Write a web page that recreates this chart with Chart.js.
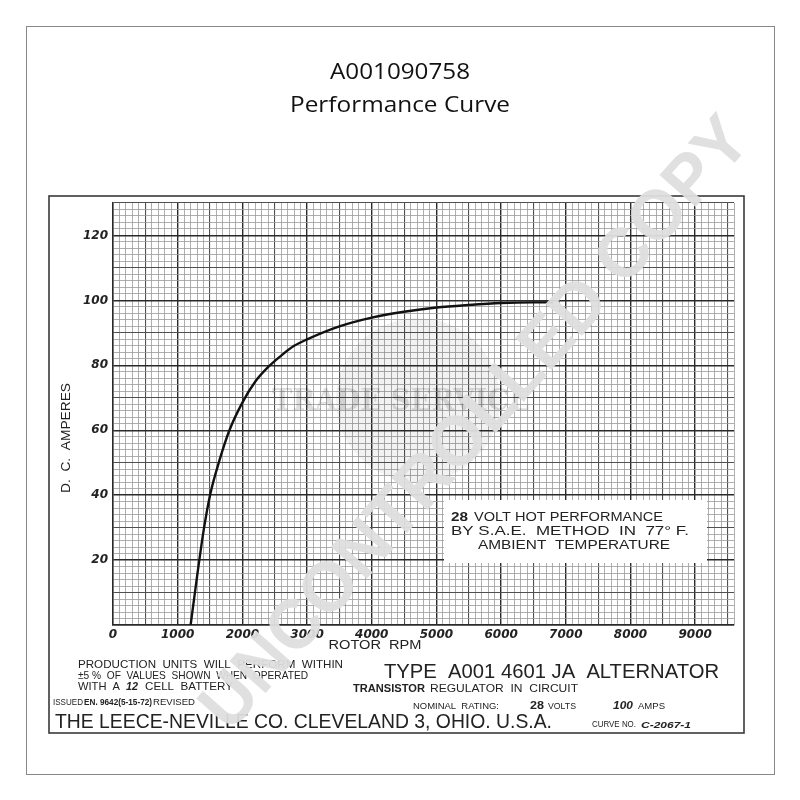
<!DOCTYPE html>
<html>
<head>
<meta charset="utf-8">
<title>A001090758 Performance Curve</title>
<script src="https://cdn.jsdelivr.net/npm/chart.js@4.4.1/dist/chart.umd.min.js"></script>
<style>
  body { margin: 0; background: #fff; }
  canvas { display: block; }
</style>
</head>
<body>
<canvas id="myChart" width="800" height="800"></canvas>
<script>
// curve
const rpm  = [1200, 1300, 1400, 1500, 1650, 1800, 2000, 2200, 2400, 2600, 2800, 3000, 3500, 4000, 4500, 5000, 5500, 6000, 6500, 6800];
const amps = [0, 15, 29, 40, 51, 60, 68.5, 75, 79.5, 83, 86, 88, 92, 94.7, 96.5, 97.8, 98.6, 99.2, 99.4, 99.4];

const xMax = 9600;
const yMax = 130;
const xLabelStep = 1000;
const yLabelStep = 20;

const noteLines = ["28 VOLT HOT PERFORMANCE", "BY S.A.E.  METHOD  IN  77° F.", "AMBIENT  TEMPERATURE"];

// draw text squeezed / stretched to a given width
function fitText(ctx, text, x, y, w, font, color, align) {
  ctx.save();
  ctx.font = font;
  ctx.fillStyle = color || '#222';
  ctx.textBaseline = 'middle';
  ctx.textAlign = 'left';
  const m = ctx.measureText(text).width;
  const sx = w / m;
  let left = x;
  if (align === 'center') left = x - w / 2;
  ctx.translate(left, y);
  ctx.scale(sx, 1);
  ctx.fillText(text, 0, 0);
  ctx.restore();
}

function gridColor(v, major, mid) {
  if (v % major === 0) return '#2a2a2a';
  if (v % mid === 0) return '#505050';
  return '#9a9a9a';
}
function gridWidth(v, major, mid) {
  if (v % major === 0) return 1.4;
  if (v % mid === 0) return 1.1;
  return 0.8;
}

const sheetPlugin = {
  id: 'sheet',
  beforeDraw(chart) {
    const ctx = chart.ctx;
    ctx.save();
    ctx.fillStyle = '#fff';
    ctx.fillRect(0, 0, 800, 800);
    ctx.strokeStyle = '#888';
    ctx.lineWidth = 1;
    ctx.strokeRect(26.5, 26.5, 748, 748);
    ctx.strokeStyle = '#3a3a3a';
    ctx.lineWidth = 1.6;
    ctx.strokeRect(49, 196, 695, 537);
    ctx.restore();

    const tf = '"Open Sans", "Liberation Sans", sans-serif';
    fitText(ctx, 'A001090758', 400, 73, 140, '21px ' + tf, '#111', 'center');
    fitText(ctx, 'Performance Curve', 400, 106, 220, '21px ' + tf, '#111', 'center');
  },
  beforeDatasetsDraw(chart) {
    // faint trade service stamp behind the curve
    const ctx = chart.ctx;
    ctx.save();
    ctx.fillStyle = 'rgba(0,0,0,0.05)';
    ctx.beginPath();
    ctx.arc(418, 400, 82, 0, Math.PI * 2);
    ctx.fill();
    ctx.restore();
    fitText(ctx, 'TRADE SERVICE', 272, 402, 258, 'bold 30px "DejaVu Serif", serif', 'rgba(0,0,0,0.13)');
  },
  afterDatasetsDraw(chart) {
    const ctx = chart.ctx;
    const sf = '"Liberation Sans", "DejaVu Sans", sans-serif';

    // note box
    ctx.save();
    ctx.fillStyle = '#fff';
    ctx.fillRect(444, 500, 263, 63);
    ctx.restore();
    fitText(ctx, '28', 451, 518, 17, 'bold 12px ' + sf, '#222');
    fitText(ctx, noteLines[0].slice(3), 474, 518, 189, '12px ' + sf, '#222');
    fitText(ctx, noteLines[1], 451, 532, 238, '12px ' + sf, '#222');
    fitText(ctx, noteLines[2], 478, 546, 192, '12px ' + sf, '#222');

    // axis titles
    fitText(ctx, 'ROTOR  RPM', 375, 646, 93, '12px ' + sf, '#222', 'center');
    ctx.save();
    ctx.translate(67, 438);
    ctx.rotate(-Math.PI / 2);
    fitText(ctx, 'D.  C.  AMPERES', 0, 0, 110, '12px ' + sf, '#222', 'center');
    ctx.restore();

    // footer text
    fitText(ctx, 'PRODUCTION  UNITS  WILL  PERFORM  WITHIN', 78, 665, 265, '10.5px ' + sf, '#222');
    fitText(ctx, '±5 %  OF  VALUES  SHOWN  WHEN  OPERATED', 78, 676, 230, '10.5px ' + sf, '#222');
    fitText(ctx, 'WITH  A', 78, 687, 42, '10.5px ' + sf, '#222');
    fitText(ctx, '12', 126, 687, 12, 'italic bold 10.5px ' + sf, '#222');
    fitText(ctx, 'CELL  BATTERY', 145, 687, 88, '10.5px ' + sf, '#222');

    fitText(ctx, 'TYPE  A001 4601 JA  ALTERNATOR', 384, 672, 335, '21px ' + sf, '#222');
    fitText(ctx, 'TRANSISTOR', 353, 689, 72, 'bold 10px ' + sf, '#222');
    fitText(ctx, 'REGULATOR  IN  CIRCUIT', 430, 689, 148, '10px ' + sf, '#222');

    fitText(ctx, 'ISSUED', 53, 703, 30, '9px ' + sf, '#222');
    fitText(ctx, 'EN. 9642(5-15-72)', 84, 703, 68, 'bold 9px ' + sf, '#222');
    fitText(ctx, 'REVISED', 153, 703, 42, '9px ' + sf, '#222');
    fitText(ctx, 'NOMINAL  RATING:', 413, 706, 86, '9.5px ' + sf, '#222');
    fitText(ctx, '28', 530, 706, 14, 'bold 10px ' + sf, '#222');
    fitText(ctx, 'VOLTS', 548, 706, 28, '9.5px ' + sf, '#222');
    fitText(ctx, '100', 613, 706, 20, 'italic bold 10px ' + sf, '#222');
    fitText(ctx, 'AMPS', 638, 706, 27, '9.5px ' + sf, '#222');

    fitText(ctx, 'THE LEECE-NEVILLE CO. CLEVELAND 3, OHIO. U.S.A.', 55, 722, 497, '20px ' + sf, '#222');
    fitText(ctx, 'CURVE NO.', 592, 725, 44, '9px ' + sf, '#222');
    fitText(ctx, 'C-2067-1', 641, 725, 50, 'italic bold 9.5px ' + sf, '#222');
  },
  afterDraw(chart) {
    const ctx = chart.ctx;
    ctx.save();
    ctx.translate(477, 425);
    ctx.rotate(-48.5 * Math.PI / 180);
    fitText(ctx, 'UNCONTROLLED COPY', 0, 0, 790, 'bold 70px "Liberation Sans", sans-serif', 'rgba(222,222,222,0.95)', 'center');
    ctx.restore();
  }
};

const myChart = document.getElementById('myChart');

let lineChart = new Chart(myChart, {
  type: 'line',
  data: {
    datasets: [{
      label: 'D.C. Amperes',
      data: rpm.map((r, i) => ({x: r, y: amps[i]})),
      borderColor: '#111',
      borderWidth: 2.4,
      pointRadius: 0,
      fill: false,
      cubicInterpolationMode: 'monotone'
    }]
  },
  options: {
    responsive: false,
    animation: false,
    layout: {
      padding: {left: 63, top: 203, right: 66, bottom: 145}
    },
    plugins: {
      legend: {display: false},
      tooltip: {enabled: false}
    },
    scales: {
      x: {
        type: 'linear',
        min: 0,
        max: xMax,
        afterFit: s => { s.height = 30; },
        border: {display: true, color: '#2a2a2a', width: 1.4},
        grid: {
          drawTicks: false,
          color: c => gridColor(c.tick.value, 1000, 500),
          lineWidth: c => gridWidth(c.tick.value, 1000, 500)
        },
        ticks: {
          stepSize: 100,
          autoSkip: false,
          maxRotation: 0,
          padding: 3,
          color: '#222',
          font: {family: '"DejaVu Sans", sans-serif', size: 12, style: 'italic', weight: 'bold'},
          callback: v => (v % xLabelStep === 0 ? String(v) : '')
        }
      },
      y: {
        min: 0,
        max: yMax,
        afterFit: s => { s.width = 50; },
        border: {display: true, color: '#2a2a2a', width: 1.4},
        grid: {
          drawTicks: false,
          color: c => gridColor(c.tick.value, 20, 10),
          lineWidth: c => gridWidth(c.tick.value, 20, 10)
        },
        ticks: {
          stepSize: 2,
          autoSkip: false,
          padding: 5,
          color: '#222',
          font: {family: '"DejaVu Sans", sans-serif', size: 12, style: 'italic', weight: 'bold'},
          callback: v => (v !== 0 && v % yLabelStep === 0 ? String(v) : '')
        }
      }
    }
  },
  plugins: [sheetPlugin]
});
</script>
</body>
</html>
